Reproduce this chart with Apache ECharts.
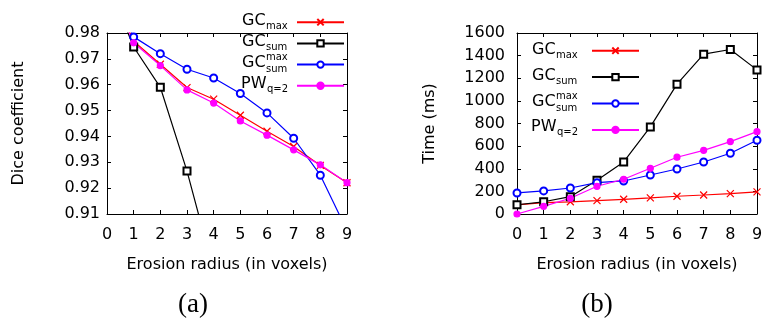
<!DOCTYPE html>
<html>
<head>
<meta charset="utf-8">
<script src="https://cdn.jsdelivr.net/npm/echarts@6/dist/echarts.min.js"></script>
<style>html,body{margin:0;padding:0;background:#fff}#c{width:767px;height:320px}</style>
</head>
<body>
<div id="c"></div>
<script>
const radius = [0, 1, 2, 3, 4, 5, 6, 7, 8, 9];
// (a) Dice coefficient
const diceGCmax    = [1.0, 0.9768, 0.9679, 0.9589, 0.9544, 0.9482, 0.9420, 0.9361, 0.9288, 0.9221];
const diceGCsum    = [1.0, 0.9746, 0.9590, 0.9266, 0.888, 0.86, 0.83, 0.80, 0.77, 0.74];
const diceGCsumMax = [1.0, 0.9785, 0.9720, 0.9660, 0.9626, 0.9566, 0.9491, 0.9393, 0.9250, 0.9036];
const dicePW       = [1.0, 0.9762, 0.9674, 0.9580, 0.9529, 0.9460, 0.9405, 0.9348, 0.9290, 0.9221];
// (b) Time (ms)
const timeGCmax    = [80, 100, 108, 118, 130, 142, 157, 168, 180, 195];
const timeGCsum    = [82, 108, 153, 298, 460, 770, 1148, 1413, 1454, 1274];
const timeGCsumMax = [186, 204, 230, 277, 292, 345, 398, 460, 537, 652];
const timePW       = [0, 68, 139, 245, 307, 404, 502, 563, 640, 728];

const FONT = 'DejaVu Sans';
const pairs = arr => radius.map((x, i) => [x, arr[i]]);

const styles = [
  {color: '#ff0000', symbol: 'path://M0,0L10,10M0,10L10,0', size: 7},
  {color: '#000000', symbol: 'emptyRect', size: 7},
  {color: '#0000ff', symbol: 'emptyCircle', size: 7},
  {color: '#ff00ff', symbol: 'circle', size: 6}
];

function mkSeries(name, data, st, idx) {
  return {
    name: name, type: 'line', xAxisIndex: idx, yAxisIndex: idx,
    data: pairs(data), clip: true, animation: false,
    symbol: st.symbol, symbolSize: st.size, showAllSymbol: true,
    lineStyle: {color: st.color, width: 1.2},
    itemStyle: {color: st.color, borderColor: st.color, borderWidth: 1.2}
  };
}

function xAxisMain(gi) {
  return {
    gridIndex: gi, type: 'value', min: 0, max: 9, interval: 1,
    name: 'Erosion radius (in voxels)', nameLocation: 'middle', nameGap: 43,
    nameTextStyle: {fontFamily: FONT, fontSize: 16, color: '#000'},
    axisLine: {show: true, lineStyle: {color: '#000', width: 1}},
    axisTick: {show: true, inside: true, length: 4, lineStyle: {color: '#000'}},
    axisLabel: {fontFamily: FONT, fontSize: 16, color: '#000', margin: 13},
    splitLine: {show: false}
  };
}
function xAxisTop(gi) {
  return {
    gridIndex: gi, type: 'value', min: 0, max: 9, interval: 1, position: 'top',
    axisLine: {show: true, onZero: false, lineStyle: {color: '#000', width: 1}},
    axisTick: {show: true, inside: true, length: 4, lineStyle: {color: '#000'}},
    axisLabel: {show: false}, splitLine: {show: false}
  };
}
function yAxisMain(gi, min, max, interval, name, fmt, margin, gap) {
  return {
    gridIndex: gi, type: 'value', min: min, max: max, interval: interval,
    name: name, nameLocation: 'middle', nameGap: gap,
    nameTextStyle: {fontFamily: FONT, fontSize: 16, color: '#000'},
    axisLine: {show: true, onZero: false, lineStyle: {color: '#000', width: 1}},
    axisTick: {show: true, inside: true, length: 4, lineStyle: {color: '#000'}},
    axisLabel: {fontFamily: FONT, fontSize: 16, color: '#000', margin: margin, formatter: fmt},
    splitLine: {show: false}
  };
}
function yAxisRight(gi, min, max, interval) {
  return {
    gridIndex: gi, type: 'value', min: min, max: max, interval: interval, position: 'right',
    axisLine: {show: true, onZero: false, lineStyle: {color: '#000', width: 1}},
    axisTick: {show: true, inside: true, length: 4, lineStyle: {color: '#000'}},
    axisLabel: {show: false}, splitLine: {show: false}
  };
}

const namesA = ['a-GCmax', 'a-GCsum', 'a-GCsummax', 'a-PW'];
const namesB = ['b-GCmax', 'b-GCsum', 'b-GCsummax', 'b-PW'];

function legend(names, left, top, gap) {
  return {
    data: names, orient: 'vertical', left: left, top: top, itemGap: gap,
    itemWidth: 47, itemHeight: 8, formatter: () => '', padding: 0,
    textStyle: {fontSize: 5}, selectedMode: false
  };
}

function t(x, y, text, size, align) {
  return {type: 'text', x: x, y: y, silent: true,
    style: {text: text, font: size + 'px "' + FONT + '"', fill: '#000', align: align || 'left', verticalAlign: 'middle'}};
}
function legendTexts(x, ys) {
  const g = [];
  g.push(t(x, ys[0], 'GC', 16)); g.push(t(x + 24, ys[0] + 5, 'max', 10));
  g.push(t(x, ys[1], 'GC', 16)); g.push(t(x + 24, ys[1] + 5, 'sum', 10));
  g.push(t(x, ys[2], 'GC', 16)); g.push(t(x + 24, ys[2] - 6, 'max', 10)); g.push(t(x + 24, ys[2] + 6, 'sum', 10));
  g.push(t(x - 1, ys[3], 'PW', 16)); g.push(t(x + 25, ys[3] + 5, 'q=2', 10));
  return g;
}

const graphic = []
  .concat(legendTexts(242, [21, 42, 63, 84]))
  .concat(legendTexts(532, [50, 76, 102, 127]))
  .concat([
    {type: 'text', x: 193, y: 305, silent: true, style: {text: '(a)', font: '27px "Liberation Serif"', fill: '#000', align: 'center', verticalAlign: 'middle'}},
    {type: 'text', x: 597, y: 305, silent: true, style: {text: '(b)', font: '27px "Liberation Serif"', fill: '#000', align: 'center', verticalAlign: 'middle'}}
  ]);

const option = {
  animation: false,
  backgroundColor: '#fff',
  grid: [
    {left: 107, right: 420, top: 33, bottom: 106},
    {left: 517, right: 10, top: 33, bottom: 106}
  ],
  xAxis: [xAxisMain(0), xAxisMain(1), xAxisTop(0), xAxisTop(1)],
  yAxis: [
    yAxisMain(0, 0.91, 0.98, 0.01, 'Dice coefficient', v => v.toFixed(2), 7, 80),
    yAxisMain(1, 0, 1600, 200, 'Time (ms)', v => String(v), 12, 79),
    yAxisRight(0, 0.91, 0.98, 0.01),
    yAxisRight(1, 0, 1600, 200)
  ],
  legend: [legend(namesA, 296, 18, 12.8), legend(namesB, 591, 46.5, 18)],
  series: [
    mkSeries(namesA[0], diceGCmax, styles[0], 0),
    mkSeries(namesA[1], diceGCsum, styles[1], 0),
    mkSeries(namesA[2], diceGCsumMax, styles[2], 0),
    mkSeries(namesA[3], dicePW, styles[3], 0),
    mkSeries(namesB[0], timeGCmax, styles[0], 1),
    mkSeries(namesB[1], timeGCsum, styles[1], 1),
    mkSeries(namesB[2], timeGCsumMax, styles[2], 1),
    mkSeries(namesB[3], timePW, styles[3], 1)
  ],
  graphic: graphic
};

const chart = echarts.init(document.getElementById('c'), null, {renderer: 'canvas'});
chart.setOption(option);
</script>
</body>
</html>
